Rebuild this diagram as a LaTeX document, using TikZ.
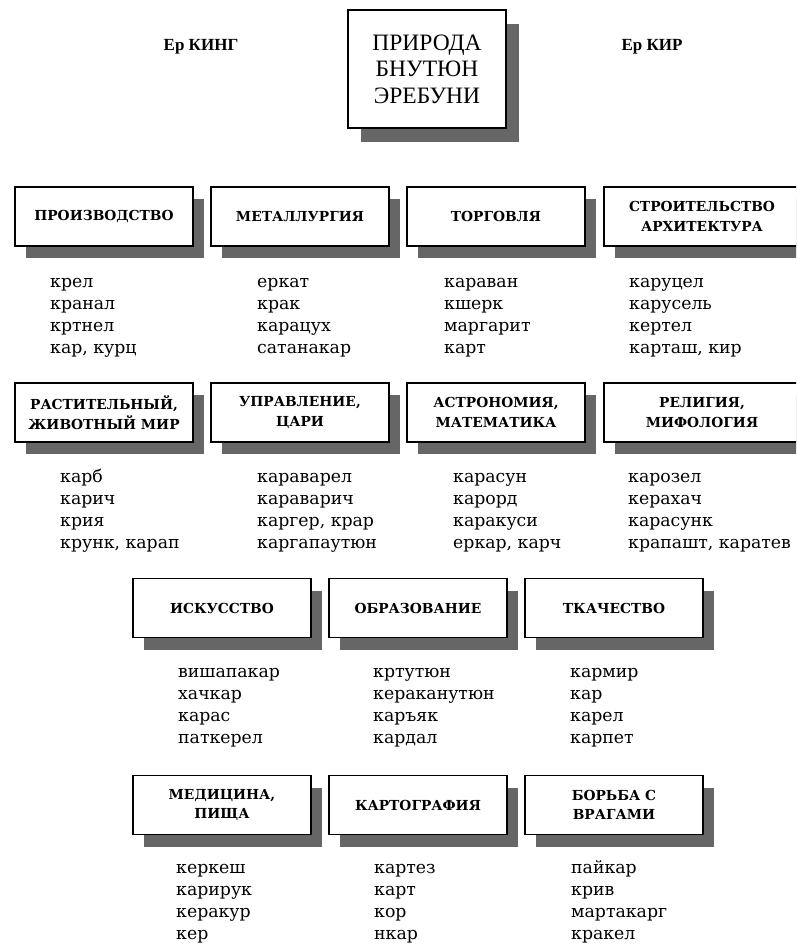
\documentclass[tikz,border=0pt]{standalone}
\usepackage{fontspec}
\setmainfont{DejaVu Serif}
\newfontfamily\timesf{Liberation Serif}
\usetikzlibrary{shadows}
\definecolor{shadowgray}{RGB}{102,102,102}
\tikzset{
  catbox/.style={draw, line width=1.6pt, fill=white, minimum width=178pt, minimum height=59pt,
    inner sep=0pt, align=center, font=\bfseries\fontsize{13.8}{19.5}\selectfont,
    drop shadow={shadow xshift=11pt, shadow yshift=-12pt, fill=shadowgray, opacity=1}},
  widebox/.style={catbox, minimum width=196pt},
  mainbox/.style={draw, line width=2.6pt, fill=white, minimum width=158pt, minimum height=118pt,
    inner sep=0pt, align=center, font=\timesf\fontsize{23.5}{26.5}\selectfont,
    drop shadow={shadow xshift=13pt, shadow yshift=-14pt, fill=shadowgray, opacity=1}},
  toplabel/.style={anchor=base, inner sep=0pt, font=\timesf\bfseries\fontsize{17}{20}\selectfont},
  word/.style={anchor=base west, inner sep=0pt, font=\fontsize{17.3}{20}\selectfont}
}
\newcommand\wordlist[4]{%
  \foreach \w [count=\i] in {#4} {\node[word] (#1-\i) at (#2, #3+22*\i-22) {\w};}}
\begin{document}
\begin{tikzpicture}[x=1pt,y=-1pt]
\useasboundingbox (0,0) rectangle (796,947);
\clip (0,0) rectangle (796,947);
% header
\node[toplabel] (king) at (201,50.6) {Ер КИНГ};
\node[toplabel] (kir) at (652,50.6) {Ер КИР};
\node[mainbox] (main) at (427,69) {ПРИРОДА\\БНУТЮН\\ЭРЕБУНИ};
% row 1
\node[catbox] (b11) at (104,216.5) {ПРОИЗВОДСТВО};
\node[catbox] (b12) at (300,216.5) {МЕТАЛЛУРГИЯ};
\node[catbox] (b13) at (496,216.5) {ТОРГОВЛЯ};
\node[widebox] (b14) at (702,216.5) {СТРОИТЕЛЬСТВО\\АРХИТЕКТУРА};
\wordlist{w11}{50}{287}{крел,кранал,кртнел,{кар, курц}}
\wordlist{w12}{257}{287}{еркат,крак,карацух,сатанакар}
\wordlist{w13}{444}{287}{караван,кшерк,маргарит,карт}
\wordlist{w14}{629}{287}{каруцел,карусель,кертел,{карташ, кир}}
% row 2
\node[catbox] (b21) at (104,412.5) {РАСТИТЕЛЬНЫЙ,\\ЖИВОТНЫЙ МИР};
\node[catbox] (b22) at (300,412.5) {УПРАВЛЕНИЕ,\\ЦАРИ};
\node[catbox] (b23) at (496,412.5) {АСТРОНОМИЯ,\\МАТЕМАТИКА};
\node[widebox] (b24) at (702,412.5) {РЕЛИГИЯ,\\МИФОЛОГИЯ};
\wordlist{w21}{60}{482}{карб,карич,крия,{крунк, карап}}
\wordlist{w22}{257}{482}{караварел,караварич,{каргер, крар},каргапаутюн}
\wordlist{w23}{453}{482}{карасун,карорд,каракуси,{еркар, карч}}
\wordlist{w24}{628}{482}{карозел,керахач,карасунк,{крапашт, каратев}}
% row 3
\node[catbox] (b31) at (222,608) {ИСКУССТВО};
\node[catbox] (b32) at (418,608) {ОБРАЗОВАНИЕ};
\node[catbox] (b33) at (614,608) {ТКАЧЕСТВО};
\wordlist{w31}{178}{677}{вишапакар,хачкар,карас,паткерел}
\wordlist{w32}{373}{677}{кртутюн,кераканутюн,каръяк,кардал}
\wordlist{w33}{570}{677}{кармир,кар,карел,карпет}
% row 4
\node[catbox] (b41) at (222,805) {МЕДИЦИНА,\\ПИЩА};
\node[catbox] (b42) at (418,805) {КАРТОГРАФИЯ};
\node[catbox] (b43) at (614,805) {БОРЬБА С\\ВРАГАМИ};
\wordlist{w41}{176}{873}{керкеш,карирук,керакур,кер}
\wordlist{w42}{374}{873}{картез,карт,кор,нкар}
\wordlist{w43}{571}{873}{пайкар,крив,мартакарг,кракел}
\end{tikzpicture}
\end{document}
